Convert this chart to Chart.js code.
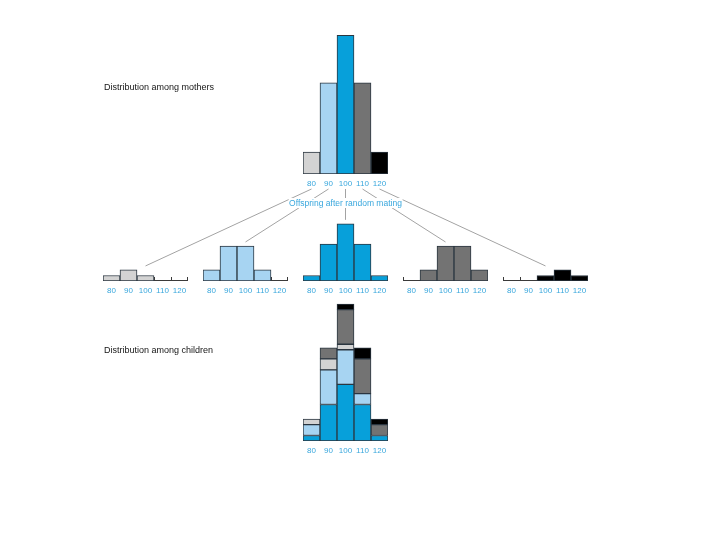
<!DOCTYPE html>
<html>
<head>
<meta charset="utf-8">
<script src="https://cdn.jsdelivr.net/npm/chart.js@4.4.1/dist/chart.umd.min.js"></script>
<style>
  html, body { margin: 0; padding: 0; background: #fff; }
  #stage { position: relative; width: 720px; height: 540px; overflow: hidden; font-family: "Liberation Sans", Arial, sans-serif; }
  #links { position: absolute; left: 0; top: 0; }
  .box { position: absolute; }
  .box canvas { display: block; }
  .title { position: absolute; left: 104px; font-size: 9px; line-height: 10px; color: #151515; white-space: nowrap; }
  #offspring { position: absolute; font-size: 8.5px; line-height: 10px; color: #39a7dd; background: #fff; white-space: nowrap; transform: translateX(-50%); padding: 0 1px; }
</style>
</head>
<body>
<div id="stage">
  <canvas id="links" width="720" height="540"></canvas>
</div>
<script>
// bins of the trait
const bins = ['80', '90', '100', '110', '120'];

// mothers, one value per bin
const mothers = [6, 25, 38, 25, 6];

// offspring of each mother class after random mating
const offspring80 = [1.5, 3, 1.5, 0, 0];
const offspring90 = [3, 9.5, 9.5, 3, 0];
const offspring100 = [1.5, 10, 15.5, 10, 1.5];
const offspring110 = [0, 3, 9.5, 9.5, 3];
const offspring120 = [0, 0, 1.5, 3, 1.5];

const offspring = [offspring80, offspring90, offspring100, offspring110, offspring120];

// stacking order in the children panel, bottom to top
const childOrder = [2, 1, 0, 3, 4];

const shades = ['#d3d3d3', '#a7d4f2', '#07a0da', '#737373', '#000000'];
const EDGE = '#2b3640';
const TICK = '#39a7dd';
const FONT = '"Liberation Sans", Arial, sans-serif';

const PX = 3.66;     // pixels per unit, shared by every panel
const AXIS_H = 16;
const PANEL_W = 85;

const stage = document.getElementById('stage');

// baseline with small upward ticks at the bin edges (offspring panels)
const baseTicks = {
  id: 'baseTicks',
  beforeDatasetsDraw(chart, args, opts) {
    if (!opts.on) return;
    const { ctx, chartArea: a, scales: { x } } = chart;
    const half = (x.getPixelForValue(1) - x.getPixelForValue(0)) / 2;
    ctx.save();
    ctx.strokeStyle = '#3a3a3a';
    ctx.lineWidth = 1;
    ctx.beginPath();
    ctx.moveTo(a.left, a.bottom - 0.5);
    ctx.lineTo(a.right, a.bottom - 0.5);
    for (let i = 0; i <= bins.length; i++) {
      let px = Math.round(x.getPixelForValue(i) - half) + 0.5;
      px = Math.min(Math.max(px, a.left + 0.5), a.right - 0.5);
      ctx.moveTo(px, a.bottom);
      ctx.lineTo(px, a.bottom - 4);
    }
    ctx.stroke();
    ctx.restore();
  }
};

function makePanel(left, baseline, yMax, datasets, withBase) {
  const areaH = Math.round(yMax * PX);
  const box = document.createElement('div');
  box.className = 'box';
  box.style.left = left + 'px';
  box.style.top = (baseline - areaH) + 'px';
  const cv = document.createElement('canvas');
  cv.width = PANEL_W;
  cv.height = areaH + AXIS_H;
  box.appendChild(cv);
  stage.appendChild(box);

  const chart = new Chart(cv, {
    type: 'bar',
    data: { labels: bins, datasets: datasets },
    plugins: [baseTicks],
    options: {
      responsive: false,
      animation: false,
      layout: { padding: 0 },
      datasets: {
        bar: {
          categoryPercentage: 1,
          barPercentage: 1,
          borderWidth: 1,
          borderColor: EDGE,
          borderSkipped: false
        }
      },
      plugins: {
        legend: { display: false },
        tooltip: { enabled: false },
        baseTicks: { on: withBase }
      },
      scales: {
        x: {
          stacked: true,
          grid: { display: false, drawTicks: true, tickLength: 5 },
          border: { display: false },
          ticks: { color: TICK, font: { family: FONT, size: 8 }, padding: 0, maxRotation: 0, autoSkip: false },
          afterFit: s => { s.height = AXIS_H; }
        },
        y: { display: false, stacked: true, min: 0, max: yMax }
      }
    }
  });
  chart.box = box;
  return chart;
}

// mothers
const mothersChart = makePanel(303, 174, 40, [
  { data: mothers, backgroundColor: shades }
], false);

// offspring of each mother class
const smallLefts = [103, 203, 303, 403, 503];
const smalls = offspring.map((vals, i) =>
  makePanel(smallLefts[i], 281, 16, [{ data: vals, backgroundColor: shades[i] }], true)
);

// children, stacked by mother class
const childrenChart = makePanel(303, 441, 40, childOrder.map(k => ({
  data: offspring[k], backgroundColor: shades[k]
})), false);

// texts
function addText(cls, id, txt, left, topPx) {
  const d = document.createElement('div');
  if (cls) d.className = cls;
  if (id) d.id = id;
  d.textContent = txt;
  if (left != null) d.style.left = left + 'px';
  d.style.top = topPx + 'px';
  stage.appendChild(d);
  return d;
}
addText('title', null, 'Distribution among mothers', null, 82);
addText('title', null, 'Distribution among children', null, 345);

// connector lines from the mother bins to their offspring panels
const lc = document.getElementById('links').getContext('2d');
lc.strokeStyle = '#a3a3a3';
lc.lineWidth = 1;
const mBase = mothersChart.box.offsetTop + mothersChart.chartArea.bottom;
smalls.forEach((c, i) => {
  const sx = mothersChart.box.offsetLeft + mothersChart.scales.x.getPixelForValue(i);
  const sy = mBase + 15;
  const a = c.chartArea;
  const ex = c.box.offsetLeft + (a.left + a.right) / 2;
  const ey = c.box.offsetTop + c.scales.y.getPixelForValue(Math.max(...offspring[i])) - 4;
  lc.beginPath();
  lc.moveTo(sx, sy);
  lc.lineTo(ex, ey);
  lc.stroke();
});

const midX = mothersChart.box.offsetLeft + mothersChart.scales.x.getPixelForValue(2);
addText(null, 'offspring', 'Offspring after random mating', midX, 198);
</script>
</body>
</html>
